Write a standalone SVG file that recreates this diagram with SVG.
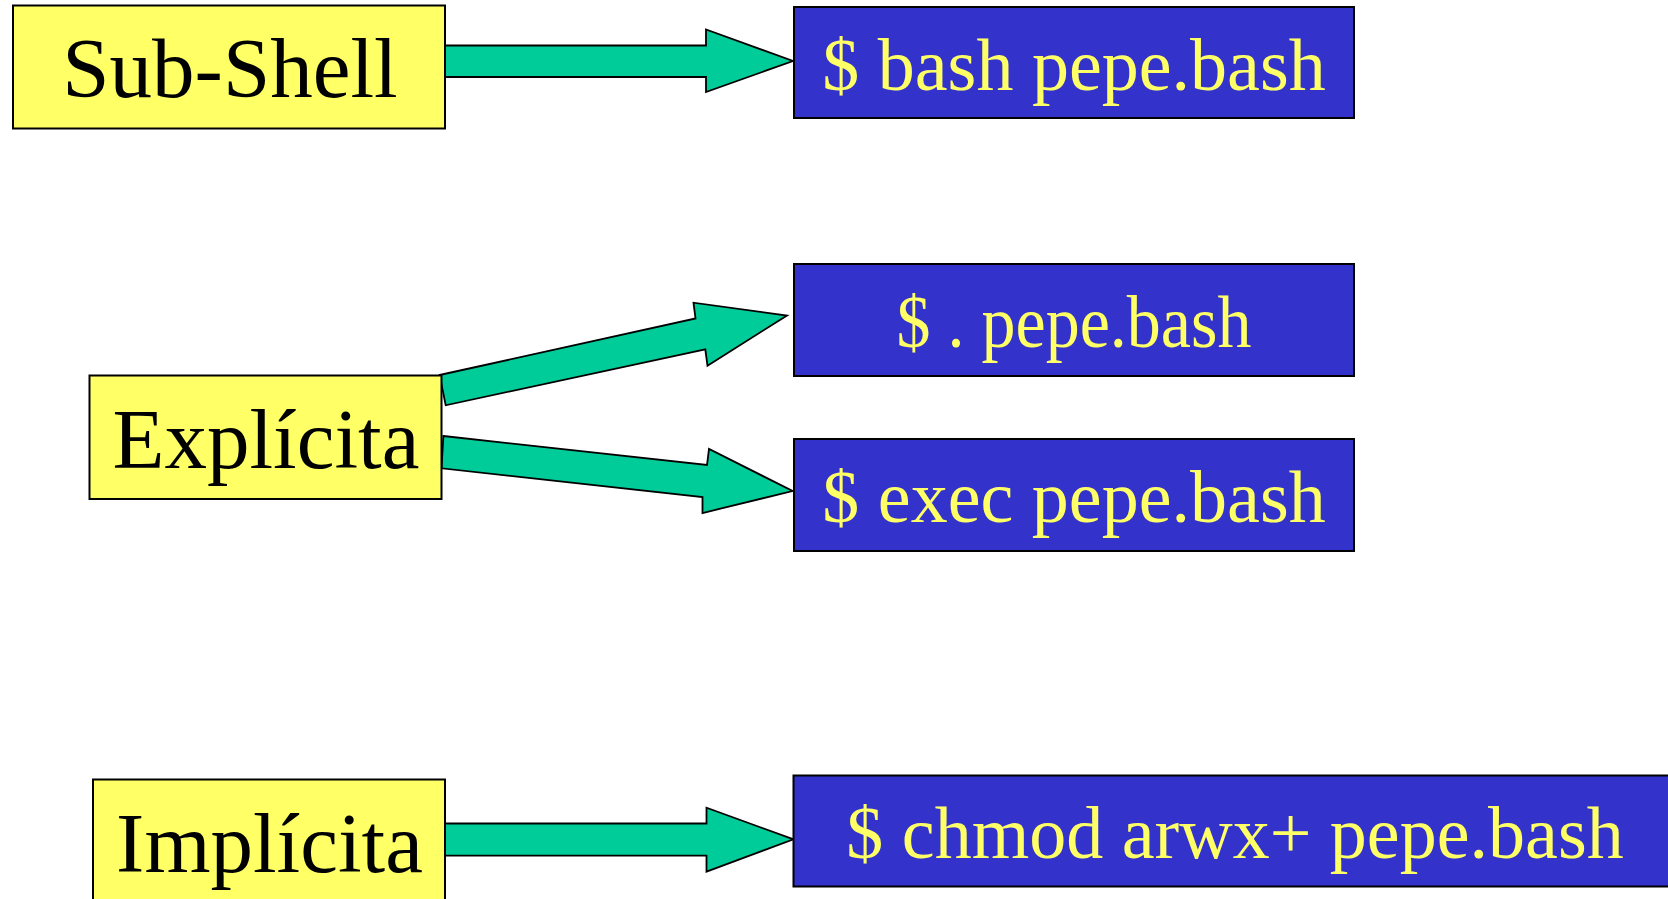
<svg xmlns="http://www.w3.org/2000/svg" width="1668" height="899" viewBox="0 0 1668 899">
<style>
.yb{fill:#FFFF66;stroke:#000;stroke-width:2}
.bb{fill:#3333CC;stroke:#000;stroke-width:2}
.yt{font-family:"Liberation Serif","Times New Roman",serif;font-size:85px;fill:#000;text-anchor:middle}
.bt{font-family:"Liberation Serif","Times New Roman",serif;font-size:74px;fill:#FFFF66;text-anchor:middle}
.ar{fill:#00CC99;stroke:#000;stroke-width:1.8;stroke-linejoin:miter}
</style>
<rect width="1668" height="899" fill="#fff"/>
<g id="connectors">
<polygon class="ar" points="442,45.5 706,45.5 706,29.5 793,61 706,92 706,77 442,77"/>
<polygon class="ar" points="439.6,375 695.5,318.5 693.5,302.7 787,315.5 707.5,365.7 705.3,349.3 445.7,405.3"/>
<polygon class="ar" points="443.4,436 707,465 709,449 792.6,491 702.5,513 702.5,497 441.5,468.3"/>
<polygon class="ar" points="442,823.5 706.5,823.5 706.5,807.7 793.5,839.3 706.5,871.7 706.5,855.7 442,855.7"/>
</g>
<g id="subshell">
<rect class="yb" x="13" y="5.5" width="432" height="123"/>
<text class="yt" x="230" y="97">Sub-Shell</text>
</g>
<g id="explicita">
<rect class="yb" x="89.5" y="375.5" width="352" height="123.5"/>
<text class="yt" x="266" y="468">Explícita</text>
</g>
<g id="implicita">
<rect class="yb" x="93" y="779.5" width="352" height="130"/>
<text class="yt" x="269.5" y="871.5">Implícita</text>
</g>
<g id="bash">
<rect class="bb" x="794" y="7" width="560" height="111"/>
<text class="bt" x="1074" y="89.5">$ bash pepe.bash</text>
</g>
<g id="dot">
<rect class="bb" x="794" y="264" width="560" height="112"/>
<text class="bt" x="1074" y="346.5" textLength="355" lengthAdjust="spacingAndGlyphs">$ . pepe.bash</text>
</g>
<g id="exec">
<rect class="bb" x="794" y="439" width="560" height="112"/>
<text class="bt" x="1074" y="521.5">$ exec pepe.bash</text>
</g>
<g id="chmod">
<rect class="bb" x="793.5" y="775.5" width="884" height="111"/>
<text class="bt" x="1235" y="858">$ chmod arwx+ pepe.bash</text>
</g>
</svg>
